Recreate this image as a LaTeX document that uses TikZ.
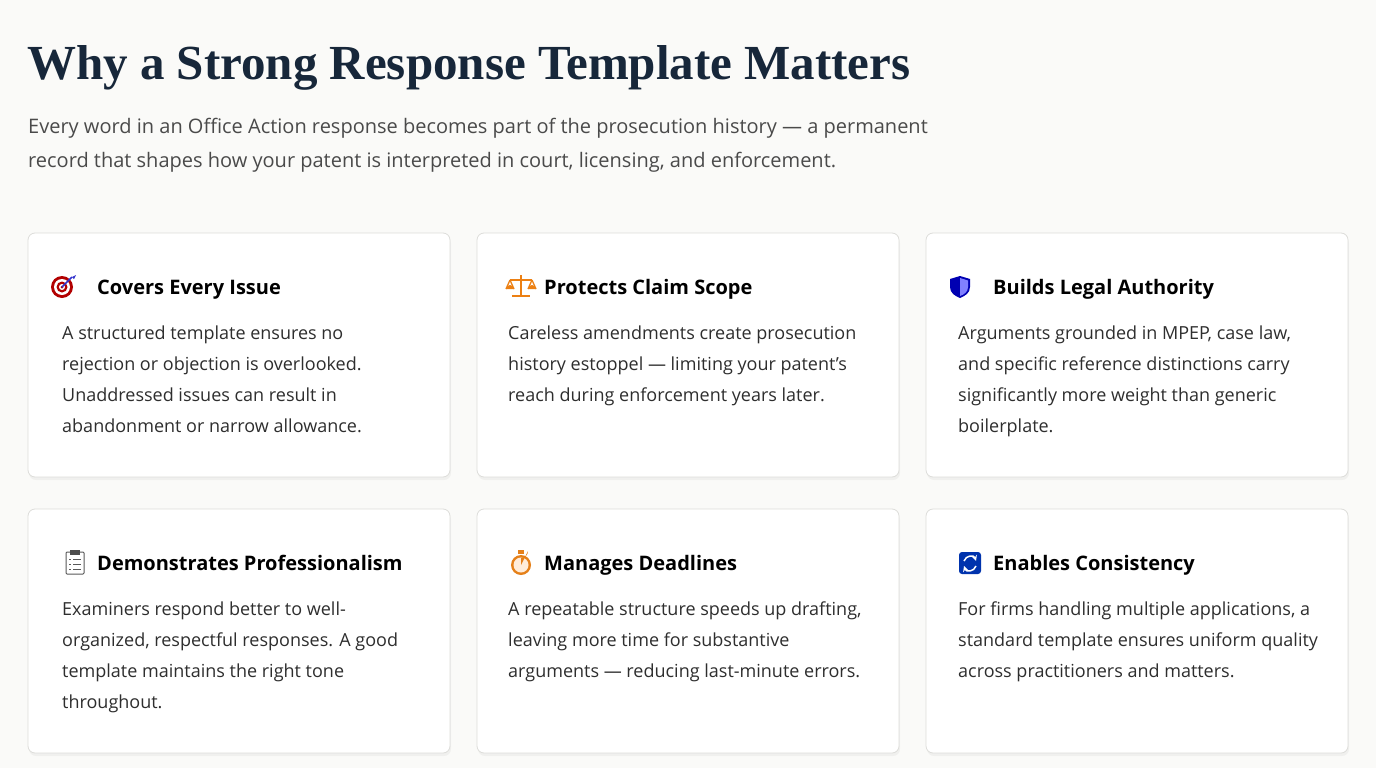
\documentclass[tikz,border=0pt]{standalone}
\usepackage{fontspec}
\setmainfont{Liberation Serif}
\setsansfont{Open Sans}
\usetikzlibrary{positioning}
\definecolor{bg}{HTML}{FAFAF8}
\definecolor{navy}{HTML}{17273A}
\definecolor{txt}{HTML}{2E2E2E}
\definecolor{sub}{HTML}{4A4A4A}
\definecolor{edge}{HTML}{DDDDDA}
\tikzset{
	card/.style={draw=edge,fill=white,rounded corners=7pt,line width=0.8pt},
	head/.style={anchor=base west,inner sep=0pt,font=\sffamily\bfseries\fontsize{20}{25}\selectfont,text=black},
	body/.style={anchor=base west,inner sep=0pt,align=left,font=\sffamily\fontsize{18}{31}\selectfont,text=txt},
}
\begin{document}
\begin{tikzpicture}[x=1pt,y=-1pt]
	\fill[bg] (0,0) rectangle (1376,768);
	\useasboundingbox (0,0) rectangle (1376,768);
	\node[anchor=base west,inner sep=0pt,text=navy,font=\fontsize{49}{52}\selectfont\bfseries] (title) at (27,80) {Why a Strong Response Template Matters};
	\node[anchor=base west,inner sep=0pt,align=left,text=sub,font=\sffamily\fontsize{20}{34}\selectfont] (intro) at (28,167)
		{Every word in an Office Action response becomes part of the prosecution history --- a permanent\\record that shapes how your patent is interpreted in court, licensing, and enforcement.};
	% cards
	\foreach \i/\x/\y in {a/28/233,b/477/233,c/926/233,d/28/509,e/477/509,f/926/509} {
		\fill[black,opacity=0.04,rounded corners=7pt] (\x+1,\y+3) rectangle (\x+423,\y+247);
		\draw[card] (\x,\y) rectangle (\x+422,\y+244);
		\coordinate (\i) at (\x,\y);
	}
	% icons
	\fill[red!70!black] (62,287) circle (11);
	\fill[white] (62,287) circle (8);
	\fill[red!70!black] (62,287) circle (5.5);
	\fill[white] (62,287) circle (3);
	\fill[red!70!black] (62,287) circle (1.5);
	\draw[blue!60!gray,line width=1.6pt] (62,287) -- (72,277);
	\fill[blue!60!gray] (72,277) -- (76,275) -- (74,279) -- cycle;
	\begin{scope}[draw=orange!70!brown,line width=1.3pt]
		\draw (521,275) -- (521,296); \draw (512,296) -- (530,296);
		\draw (510,280) -- (532,280);
		\draw (510,280) -- (506,289) (510,280) -- (514,289) (532,280) -- (528,289) (532,280) -- (536,289);
		\fill[orange!70!brown] (506,289) arc (180:360:4) -- cycle (528,289) arc (180:360:4) -- cycle;
	\end{scope}
	\fill[blue!70!black] (960,276) -- (970,279) -- (970,287) .. controls (970,293) and (965,296) .. (960,298) .. controls (955,296) and (950,293) .. (950,287) -- (950,279) -- cycle;
	\fill[blue!50] (960,278) -- (968,280.5) -- (968,287) .. controls (968,292) and (964,294.5) .. (960,296) -- cycle;
	\draw[gray!70!black,fill=white,line width=1pt,rounded corners=1pt] (66,552) rectangle (84,574);
	\fill[gray!60!black] (70,550) rectangle (80,555);
	\foreach \k in {559,564,569} \draw[gray!70!black,line width=1pt] (69,\k) -- (71,\k) (73,\k) -- (81,\k);
	\fill[orange!60!brown] (521,565) circle (10);
	\fill[orange!15] (521,565) circle (7.5);
	\fill[orange!60!brown] (521,565) -- (521,558) arc (90:0:7) -- cycle;
	\fill[orange!60!brown] (518,550) rectangle (524,554);
	\fill[blue!60!black!80!cyan,rounded corners=3pt] (959,552) rectangle (981,574);
	\draw[white,line width=1.5pt,->,>=stealth] (964,561) .. controls (966,555) and (974,555) .. (976,561);
	\draw[white,line width=1.5pt,->,>=stealth] (976,566) .. controls (974,572) and (966,572) .. (964,566);
	% headings
	\node[head] (h1) at (97,294) {Covers Every Issue};
	\node[head] (h2) at (544,294) {Protects Claim Scope};
	\node[head] (h3) at (993,294) {Builds Legal Authority};
	\node[head] (h4) at (97,570) {Demonstrates Professionalism};
	\node[head] (h5) at (544,570) {Manages Deadlines};
	\node[head] (h6) at (993,570) {Enables Consistency};
	% texts (base = last line)
	\node[body] (t1) at (62,432) {A structured template ensures no\\rejection or objection is overlooked.\\Unaddressed issues can result in\\abandonment or narrow allowance.};
	\node[body] (t2) at (508,401) {Careless amendments create prosecution\\history estoppel --- limiting your patent's\\reach during enforcement years later.};
	\node[body] (t3) at (958,432) {Arguments grounded in MPEP, case law,\\and specific reference distinctions carry\\significantly more weight than generic\\boilerplate.};
	\node[body] (t4) at (62,708) {Examiners respond better to well-\\organized, respectful responses. A good\\template maintains the right tone\\throughout.};
	\node[body] (t5) at (508,677) {A repeatable structure speeds up drafting,\\leaving more time for substantive\\arguments --- reducing last-minute errors.};
	\node[body] (t6) at (958,677) {For firms handling multiple applications, a\\standard template ensures uniform quality\\across practitioners and matters.};
\end{tikzpicture}
\end{document}
